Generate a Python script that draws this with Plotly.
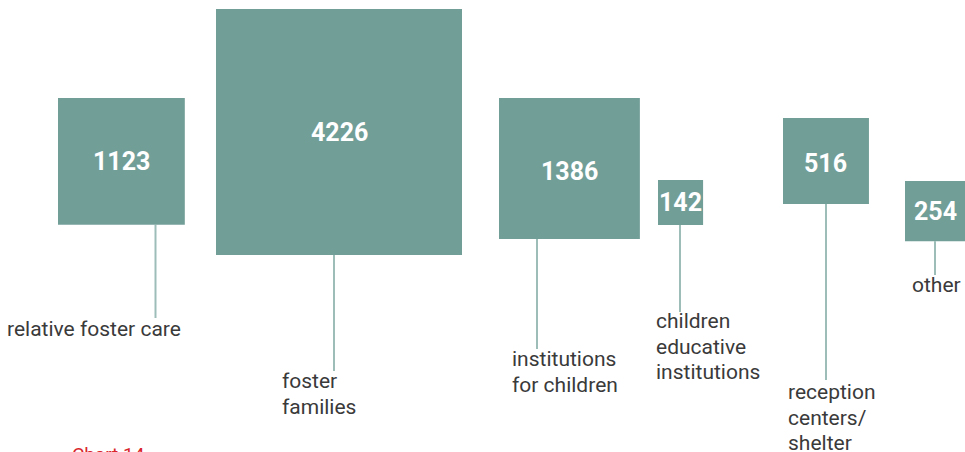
import numpy as np
import plotly.graph_objects as go

# Данные
categories = ["relative foster care", "foster families", "institutions for children",
              "children educative institutions", "reception centers/ shelter", "other"]
label_lines = [["relative foster care"], ["foster", "families"], ["institutions", "for children"],
               ["children", "educative", "institutions"], ["reception", "centers/", "shelter"], ["other"]]
values = [1123, 4226, 1386, 142, 516, 254]

# Раскладка (пиксели)
W, H = 965, 452
px_per_sqrt = 246 / np.sqrt(4226)
box_left = [58, 216, 499, 658, 783, 905]
box_top = [98, 9, 98, 180, 118, 181]
stem_x = [155.5, 334, 537, 680, 826, 935]
stem_end = [318, 371, 349, 312, 380, 275]
text_x = [7, 282, 512, 656, 788, 912]
text_y = [329, 381, 359, 321, 392, 285]
num_dy = [0, 0, 3.5, 0, 2.5, 0]
line_gap = 25.5

box_color = "rgb(114,158,152)"
stem_color = "rgb(157,189,184)"
text_color = "#3a3a3a"
font_txt = "Roboto"

fig = go.Figure()

for i, v in enumerate(values):
    side = px_per_sqrt * np.sqrt(v)
    x0, y0 = box_left[i], box_top[i]
    # ножка
    fig.add_trace(go.Scatter(x=[stem_x[i], stem_x[i]], y=[y0 + side, stem_end[i]], mode="lines",
                             line=dict(color=stem_color, width=2), hoverinfo="skip", showlegend=False))
    # квадрат
    fig.add_trace(go.Scatter(x=[x0, x0 + side, x0 + side, x0, x0], y=[y0, y0, y0 + side, y0 + side, y0],
                             mode="lines", fill="toself", fillcolor=box_color, line=dict(width=0, color=box_color),
                             name=categories[i], hoverinfo="name", showlegend=False))
    fig.add_annotation(x=x0 + side / 2, y=y0 + side / 2 + num_dy[i], text=f"<b>{v}</b>", showarrow=False,
                       font=dict(family=font_txt, size=25, color="white"), xanchor="center", yanchor="middle")
    for j, t in enumerate(label_lines[i]):
        fig.add_annotation(x=text_x[i], y=text_y[i] + j * line_gap, text=t, showarrow=False,
                           font=dict(family=font_txt, size=21, color=text_color),
                           xanchor="left", yanchor="middle", xshift=-2)

fig.add_annotation(x=72, y=441, text="Chart 14", showarrow=False, xanchor="left", yanchor="top",
                   font=dict(family=font_txt, size=19, color="rgb(217,38,43)"), xshift=-2)

fig.update_layout(width=W, height=H, margin=dict(l=0, r=0, t=0, b=0),
                  paper_bgcolor="white", plot_bgcolor="white",
                  xaxis=dict(range=[0, W], visible=False, fixedrange=True),
                  yaxis=dict(range=[H, 0], visible=False, fixedrange=True))

# убрать отступ body, чтобы картинка легла ровно в окно
fig.write_html("out.html", config={"displayModeBar": False},
               post_script="document.body.style.margin='0';document.body.style.overflow='hidden';")
